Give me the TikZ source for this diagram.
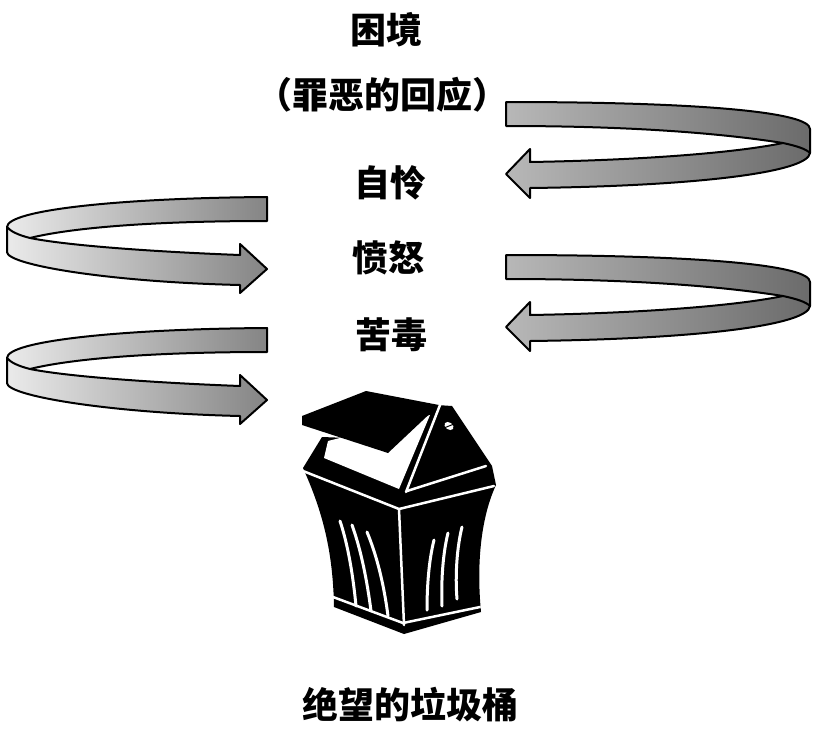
\documentclass[tikz,border=0pt]{standalone}
\usepackage{fontspec}
\newfontfamily\cjk{Noto Sans CJK SC}
\usepackage{xcolor}

\begin{document}
\begin{tikzpicture}[x=1pt, y=-1pt]
    \tikzstyle{word} = [font={\cjk\bfseries\fontsize{36pt}{42pt}\selectfont}, inner sep=0pt]
    \tikzstyle{ribbonR} = [draw=black, line width=2pt, line join=round, left color=black!28, middle color=black!40, right color=black!58]
    \tikzstyle{ribbonL} = [draw=black, line width=2pt, line join=round, left color=black!8, middle color=black!28, right color=black!48]
    \tikzstyle{crease} = [draw=black, line width=2pt]
    \tikzstyle{rim} = [draw=white, line width=2.5pt, line cap=round]
    \tikzstyle{slot} = [draw=white, line width=3pt, line cap=round]

    \useasboundingbox (0,0) rectangle (813,728);

    % labels
    \node (trouble) [word] at (386,30) {困境};
    \node (response) [word] at (382,95) {（罪恶的回应）};
    \node (selfpity) [word] at (390,183) {自怜};
    \node (anger) [word] at (388,258) {愤怒};
    \node (bitterness) [word] at (391,335) {苦毒};
    \node (despair) [word] at (410,705) {绝望的垃圾桶};

    % right ribbons
    \begin{scope}
        \draw [ribbonR] (506,102) .. controls (700,102) and (810,112) .. (810,129) -- (810,153)
            .. controls (808,172) and (700,186) .. (530,188) -- (530,198) -- (506,174) -- (530,149) -- (530,162)
            .. controls (650,160) and (740,152) .. (783,143) .. controls (700,130) and (600,126) .. (506,126) -- cycle;
        \draw [crease] (783,143) .. controls (797,146) and (806,149) .. (810,153);
    \end{scope}
    \begin{scope}[shift={(0,153)}]
        \draw [ribbonR] (506,102) .. controls (700,102) and (810,112) .. (810,129) -- (810,153)
            .. controls (808,172) and (700,186) .. (530,188) -- (530,198) -- (506,174) -- (530,149) -- (530,162)
            .. controls (650,160) and (740,152) .. (783,143) .. controls (700,130) and (600,126) .. (506,126) -- cycle;
        \draw [crease] (783,143) .. controls (797,146) and (806,149) .. (810,153);
    \end{scope}

    % left ribbons
    \begin{scope}
        \draw [ribbonL] (267,197) .. controls (120,198) and (7,210) .. (7,227) -- (7,252)
            .. controls (7,265) and (110,282) .. (240,285) -- (240,293) -- (267,269) -- (240,244) -- (240,255)
            .. controls (160,252) and (70,246) .. (30,238) .. controls (70,228) and (150,221) .. (267,221) -- cycle;
        \draw [crease] (30,238) .. controls (18,235) and (10,231) .. (7,227);
    \end{scope}
    \begin{scope}[shift={(0,131)}]
        \draw [ribbonL] (267,197) .. controls (120,198) and (7,210) .. (7,227) -- (7,252)
            .. controls (7,265) and (110,282) .. (240,285) -- (240,293) -- (267,269) -- (240,244) -- (240,255)
            .. controls (160,252) and (70,246) .. (30,238) .. controls (70,228) and (150,221) .. (267,221) -- cycle;
        \draw [crease] (30,238) .. controls (18,235) and (10,231) .. (7,227);
    \end{scope}

    % trash can
    \fill [black] (303,468) -- (322,437) -- (400,440) -- (437,405) -- (452,406) -- (492,466) -- (496,485)
        .. controls (482,515) and (476,560) .. (481,612) -- (404,634) -- (334,607)
        .. controls (333,550) and (322,510) .. cycle;
    \fill [white] (328,441) -- (324,458) -- (399,489) -- (430,415) -- cycle;
    \fill [black] (302,416) -- (366,391) -- (439,405) -- (388,453) -- (302,425) -- cycle;
    \fill [white, rotate around={-35:(449,426)}] (449,426) ellipse (5 and 3.5);
    \draw [black, line width=1pt] (444,428) -- (454,424);
    \draw [rim] (303,471) -- (399,509) -- (494,486);
    \draw [rim] (399,509) -- (404,625);
    \draw [rim] (407,491) -- (486,466);
    \draw [rim] (440,405) -- (406,492);
    \draw [rim] (333,597) -- (403,623) -- (480,607);
    \draw [slot] (340,521) .. controls (348,545) and (353,575) .. (356,606);
    \draw [slot] (352,525) .. controls (361,550) and (367,580) .. (371,611);
    \draw [slot] (367,532) .. controls (377,556) and (384,585) .. (388,616);
    \draw [slot] (434,540) .. controls (429,560) and (427,585) .. (427,610);
    \draw [slot] (448,533) .. controls (443,553) and (441,580) .. (442,606);
    \draw [slot] (462,527) .. controls (457,547) and (455,575) .. (457,599);
\end{tikzpicture}
\end{document}
